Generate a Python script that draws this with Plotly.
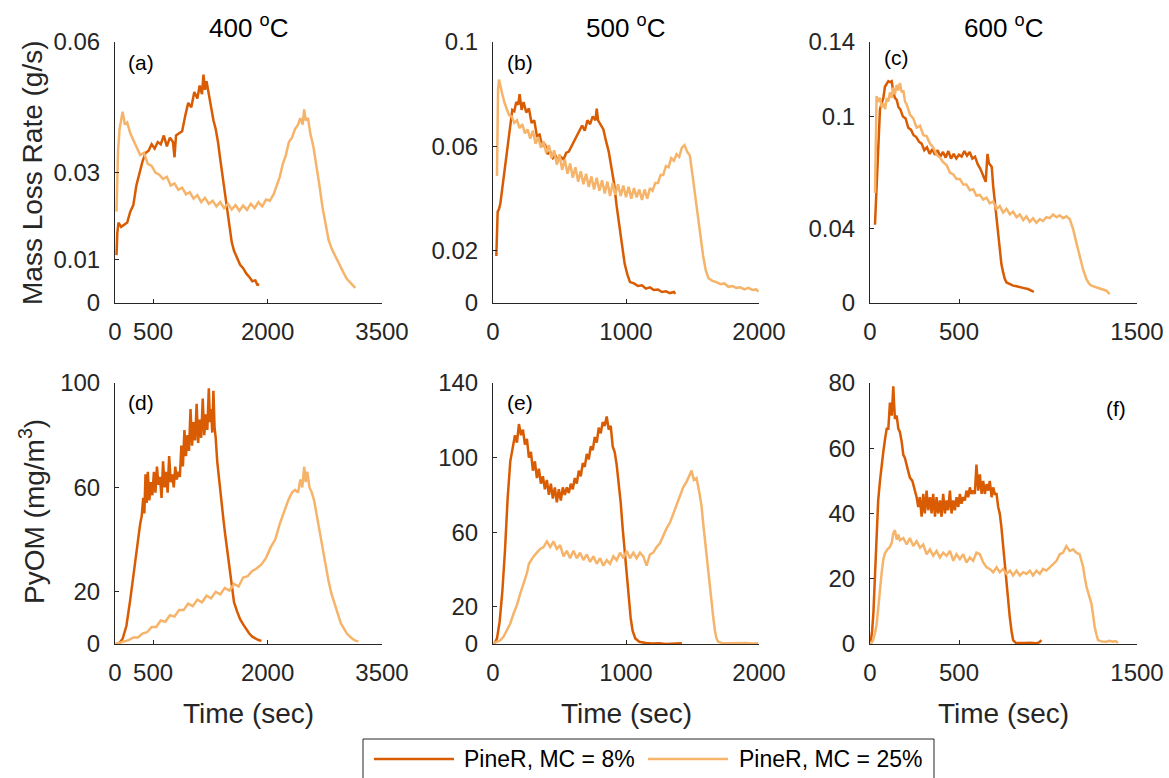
import plotly.graph_objects as go

# ---------------- data ----------------
SERIES = ["PineR, MC = 8%", "PineR, MC = 25%"]
COLORS = ["#D95B02", "#F6B46A"]
TEMPS = ["400", "500", "600"]
PANELS = ["(a)", "(b)", "(c)", "(d)", "(e)", "(f)"]

# (a) 400 C mass loss rate (g/s)
A8_T = [20, 30, 45, 80, 120, 160, 200, 240, 280, 320, 360, 400, 440, 480, 520, 560, 600, 640, 680, 720,
        760, 780, 800, 840, 880, 920, 960, 1000, 1040, 1080, 1110, 1140, 1160, 1180, 1200, 1230, 1260, 1290, 1320, 1350,
        1380, 1410, 1440, 1470, 1500, 1530, 1560, 1600, 1640, 1680, 1720, 1760, 1800, 1840, 1870, 1880]
A8_V = [0.011, 0.016, 0.0185, 0.0175, 0.018, 0.0185, 0.021, 0.0225, 0.027, 0.030, 0.0325, 0.0345, 0.035, 0.0365, 0.0355, 0.037, 0.0365, 0.0385, 0.036, 0.038,
        0.037, 0.0335, 0.0385, 0.039, 0.0395, 0.043, 0.046, 0.045, 0.0485, 0.047, 0.050, 0.048, 0.0525, 0.049, 0.051, 0.048, 0.045, 0.042, 0.040, 0.037,
        0.033, 0.029, 0.025, 0.021, 0.018, 0.014, 0.012, 0.0105, 0.0088, 0.008, 0.0068, 0.006, 0.005, 0.0052, 0.004, 0.0045]
A25_T = [20, 40, 60, 80, 100, 130, 160, 200, 240, 280, 330, 380, 430, 480, 530, 580, 630, 680, 730, 780,
         830, 880, 930, 980, 1030, 1080, 1130, 1180, 1230, 1280, 1330, 1380, 1430, 1480, 1530, 1580, 1630, 1680, 1730, 1780,
         1830, 1880, 1930, 1980, 2030, 2080, 2120, 2160, 2200, 2240, 2280, 2320, 2360, 2400, 2430, 2460, 2480, 2500, 2530, 2560,
         2600, 2640, 2680, 2720, 2760, 2800, 2840, 2880, 2920, 2960, 3000, 3040, 3080, 3120, 3150]
A25_V = [0.021, 0.035, 0.040, 0.042, 0.044, 0.041, 0.0415, 0.039, 0.0375, 0.036, 0.034, 0.0345, 0.032, 0.0315, 0.030, 0.0295, 0.0285, 0.029, 0.027, 0.0275,
         0.026, 0.0265, 0.025, 0.0255, 0.024, 0.0248, 0.0232, 0.0242, 0.0228, 0.0235, 0.0222, 0.0232, 0.0218, 0.0228, 0.0215, 0.0225, 0.0212, 0.0224, 0.0214, 0.0228,
         0.0218, 0.0232, 0.0222, 0.0238, 0.0235, 0.025, 0.027, 0.029, 0.032, 0.034, 0.037, 0.038, 0.040, 0.041, 0.0425, 0.041, 0.0445, 0.042, 0.0425, 0.039,
         0.036, 0.032, 0.027, 0.022, 0.018, 0.0145, 0.0125, 0.011, 0.0095, 0.008, 0.0068, 0.0055, 0.0048, 0.004, 0.0035]

# (b) 500 C mass loss rate (g/s)
B8_T = [25, 30, 35, 45, 55, 70, 85, 100, 115, 130, 145, 160, 175, 190, 200, 215, 230, 250, 270, 290,
        310, 330, 350, 370, 390, 410, 430, 450, 470, 490, 510, 530, 550, 570, 590, 610, 630, 650, 670, 690,
        710, 730, 750, 770, 780, 790, 810, 830, 850, 870, 890, 910, 930, 950, 970, 990, 1010, 1030, 1060, 1090,
        1120, 1150, 1180, 1210, 1240, 1270, 1300, 1330, 1360, 1370]
B8_V = [0.018, 0.030, 0.035, 0.036, 0.038, 0.044, 0.050, 0.058, 0.063, 0.069, 0.074, 0.0735, 0.077, 0.076, 0.080, 0.074, 0.077, 0.073, 0.0745, 0.069,
        0.070, 0.064, 0.0645, 0.060, 0.061, 0.057, 0.058, 0.0555, 0.0565, 0.0545, 0.056, 0.055, 0.0575, 0.058, 0.060, 0.0615, 0.064, 0.0655, 0.068, 0.066,
        0.070, 0.0685, 0.0715, 0.070, 0.0745, 0.070, 0.068, 0.0665, 0.062, 0.058, 0.052, 0.046, 0.037, 0.029, 0.021, 0.015, 0.011, 0.008, 0.0075, 0.0065,
        0.0068, 0.0055, 0.006, 0.005, 0.0052, 0.0042, 0.0045, 0.0038, 0.0042, 0.0035]
B25_T = [30, 38, 45, 55, 70, 85, 100, 120, 140, 160, 180, 200, 220, 240, 260, 280, 300, 320, 340, 360,
         380, 400, 420, 440, 460, 480, 500, 520, 540, 560, 580, 600, 620, 640, 660, 680, 700, 720, 740, 760,
         780, 800, 820, 840, 860, 880, 900, 920, 940, 960, 980, 1000, 1020, 1040, 1060, 1080, 1100, 1120, 1140, 1160,
         1180, 1200, 1220, 1240, 1260, 1280, 1300, 1320, 1340, 1360, 1380, 1400, 1420, 1440, 1460, 1480, 1500, 1520, 1540, 1560,
         1580, 1600, 1620, 1650, 1680, 1710, 1740, 1770, 1800, 1830, 1860, 1890, 1920, 1950, 1980, 1995]
B25_V = [0.0487, 0.082, 0.0856, 0.083, 0.080, 0.077, 0.075, 0.072, 0.0715, 0.069, 0.070, 0.067, 0.0685, 0.065, 0.0665, 0.063, 0.066, 0.061, 0.0635, 0.0595,
         0.062, 0.0575, 0.0605, 0.0555, 0.0585, 0.053, 0.057, 0.051, 0.055, 0.0495, 0.0535, 0.048, 0.052, 0.0465, 0.0505, 0.0455, 0.0495, 0.0445, 0.0485, 0.0435,
         0.048, 0.043, 0.047, 0.042, 0.0465, 0.041, 0.046, 0.0415, 0.0455, 0.041, 0.045, 0.0405, 0.0445, 0.040, 0.044, 0.0405, 0.0435, 0.0395, 0.0435, 0.040,
         0.044, 0.043, 0.046, 0.046, 0.049, 0.049, 0.0525, 0.052, 0.0555, 0.0545, 0.057, 0.056, 0.0595, 0.0605, 0.058, 0.0565, 0.049, 0.041, 0.033, 0.025,
         0.018, 0.0125, 0.0095, 0.0085, 0.008, 0.0072, 0.0075, 0.0062, 0.0065, 0.0058, 0.006, 0.0052, 0.0058, 0.005, 0.0052, 0.0043]

# (c) 600 C mass loss rate (g/s)
C8_T = [28, 33, 37, 42, 47, 52, 56, 65, 75, 84, 94, 103, 112, 122, 131, 140, 150, 160, 170, 185,
        200, 215, 230, 245, 260, 275, 290, 305, 320, 335, 350, 365, 380, 395, 410, 425, 440, 455, 470, 485,
        500, 515, 530, 545, 560, 575, 590, 605, 620, 635, 650, 660, 668, 676, 684, 692, 700, 711, 720, 729,
        738, 748, 757, 767, 785, 804, 823, 842, 865, 888, 905, 920]
C8_V = [0.042, 0.055, 0.063, 0.078, 0.088, 0.098, 0.104, 0.107, 0.110, 0.116, 0.118, 0.119, 0.1185, 0.119, 0.113, 0.110, 0.109, 0.105, 0.104, 0.100,
        0.099, 0.094, 0.093, 0.090, 0.089, 0.0865, 0.0855, 0.082, 0.0835, 0.080, 0.0825, 0.0795, 0.082, 0.0785, 0.081, 0.078, 0.0815, 0.0775, 0.080, 0.0775,
        0.0795, 0.0785, 0.0815, 0.0790, 0.0810, 0.0775, 0.0785, 0.0745, 0.072, 0.068, 0.065, 0.080, 0.075, 0.074, 0.0730, 0.0628, 0.055, 0.0467, 0.036, 0.027,
        0.021, 0.0164, 0.013, 0.011, 0.010, 0.0093, 0.009, 0.0084, 0.0080, 0.0075, 0.0068, 0.006]
C25_T = [28, 32, 37, 45, 56, 66, 75, 85, 94, 103, 112, 122, 131, 140, 150, 159, 168, 178, 187, 197,
         206, 225, 243, 262, 281, 300, 318, 337, 355, 374, 393, 411, 430, 449, 468, 486, 505, 524, 542, 561,
         580, 598, 617, 636, 655, 673, 692, 711, 729, 748, 767, 786, 804, 823, 842, 861, 879, 898, 916, 935,
         954, 972, 991, 1010, 1029, 1048, 1066, 1085, 1103, 1122, 1141, 1159, 1178, 1197, 1216, 1230, 1244, 1267, 1290, 1310,
         1328, 1346]
C25_V = [0.059, 0.100, 0.111, 0.108, 0.110, 0.105, 0.107, 0.104, 0.110, 0.108, 0.113, 0.110, 0.1155, 0.112, 0.117, 0.114, 0.118, 0.113, 0.114, 0.108,
         0.1065, 0.101, 0.099, 0.094, 0.095, 0.090, 0.0895, 0.0855, 0.0835, 0.0795, 0.078, 0.0755, 0.074, 0.070, 0.069, 0.0665, 0.0665, 0.0635, 0.0635, 0.0605,
         0.0610, 0.0575, 0.058, 0.0555, 0.0565, 0.0535, 0.0545, 0.0505, 0.052, 0.0485, 0.0505, 0.0475, 0.049, 0.046, 0.0475, 0.0445, 0.0465, 0.0435, 0.0455, 0.0430,
         0.0450, 0.0440, 0.0460, 0.0455, 0.0475, 0.0460, 0.0470, 0.0455, 0.0465, 0.0450, 0.0396, 0.0325, 0.0253, 0.018, 0.0128, 0.0105, 0.0093, 0.0085, 0.0075, 0.0072,
         0.0066, 0.0048]

# (d) 400 C PyOM (mg/m3)
D8_T = [20, 60, 100, 150, 200, 240, 270, 300, 330, 350, 370, 385, 400, 415, 430, 450, 470, 490, 510, 530,
        550, 570, 590, 610, 630, 650, 670, 690, 710, 730, 750, 770, 790, 810, 830, 850, 870, 890, 910, 930,
        950, 970, 990, 1010, 1030, 1050, 1070, 1090, 1110, 1130, 1150, 1170, 1190, 1210, 1230, 1245, 1260, 1275, 1290, 1305,
        1320, 1340, 1360, 1380, 1400, 1420, 1440, 1470, 1500, 1530, 1560, 1600, 1640, 1680, 1720, 1760, 1800, 1840, 1880, 1920]
D8_V = [0, 0.5, 2, 7, 17, 26, 34, 41, 46, 49, 56, 50, 65, 54, 66, 55, 62, 57, 66, 58,
        68, 61, 64, 56, 70, 60, 66, 58, 72, 62, 65, 60, 68, 63, 66, 64, 76, 68, 82, 72,
        80, 74, 90, 76, 85, 78, 92, 77, 86, 79, 94, 80, 88, 82, 98, 85, 90, 81, 97, 83,
        79, 70, 64, 58, 53, 48, 43, 36, 28, 21, 16, 12.5, 9.5, 7.5, 5.5, 4, 2.8, 2, 1.5, 1.2]
D25_T = [0, 60, 120, 180, 240, 300, 360, 420, 480, 540, 600, 660, 720, 780, 840, 900, 960, 1020, 1080, 1140,
         1200, 1260, 1320, 1380, 1440, 1500, 1560, 1620, 1680, 1740, 1800, 1860, 1920, 1980, 2040, 2100, 2160, 2220, 2270, 2320,
         2360, 2400, 2430, 2455, 2480, 2500, 2520, 2550, 2580, 2610, 2640, 2680, 2720, 2760, 2800, 2840, 2880, 2920, 2960, 3000,
         3040, 3080, 3120, 3160, 3190]
D25_V = [0, 0.5, 1, 1.5, 2.5, 2.5, 4, 4.5, 6.5, 6.5, 9, 8.5, 11, 10.5, 13, 13, 15.5, 14.5, 17, 16,
         18.5, 17.5, 20, 19, 21.5, 20.5, 23, 22, 25.5, 26, 28, 29, 30.5, 33, 37, 40, 46, 51, 55, 58,
         59, 58, 63, 60, 68, 62, 66, 60, 58, 55, 50, 43, 36, 30, 24, 19, 15, 11, 8, 6,
         4, 2.8, 1.8, 1.2, 1]

# (e) 500 C PyOM (mg/m3)
E8_T = [10, 30, 50, 70, 90, 110, 130, 150, 165, 180, 195, 210, 225, 240, 255, 270, 285, 300, 315, 330,
        345, 360, 375, 390, 405, 420, 435, 450, 465, 480, 495, 510, 525, 540, 555, 570, 585, 600, 615, 630,
        645, 660, 675, 690, 705, 720, 735, 750, 765, 780, 795, 810, 825, 840, 855, 870, 885, 900, 915, 930,
        945, 960, 975, 990, 1005, 1020, 1035, 1050, 1070, 1100, 1150, 1200, 1250, 1300, 1350, 1400, 1420]
E8_V = [0, 3, 12, 28, 50, 78, 98, 107, 112, 108, 118, 112, 115, 107, 110, 100, 103, 93, 98, 89,
        94, 86, 90, 83, 88, 80, 86, 78, 84, 76, 83, 77, 84, 80, 84, 81, 86, 83, 89, 86,
        93, 90, 97, 95, 102, 99, 106, 104, 111, 108, 116, 113, 119, 117, 122, 115, 117, 106, 103, 96,
        87, 76, 62, 49, 36, 24, 14, 7, 3, 1.2, 0.5, 0.3, 0.4, 0, 0.3, 0.2, 0.4]
E25_T = [5, 30, 55, 80, 105, 130, 155, 180, 205, 230, 255, 270, 285, 305, 330, 355, 380, 405, 430, 455,
         480, 505, 530, 555, 580, 605, 630, 655, 680, 705, 730, 755, 780, 805, 830, 855, 880, 905, 930, 955,
         980, 1005, 1030, 1055, 1080, 1105, 1130, 1155, 1180, 1205, 1230, 1255, 1280, 1305, 1330, 1355, 1380, 1405, 1430, 1455,
         1475, 1493, 1510, 1530, 1550, 1568, 1580, 1593, 1606, 1618, 1630, 1643, 1655, 1668, 1680, 1693, 1720, 1760, 1800, 1850,
         1900, 1950, 1993]
E25_V = [0.4, 1, 2, 4, 7.5, 11, 16.4, 21, 27, 32, 38, 43, 45, 47, 49, 51, 52, 55, 52, 55,
         51, 53, 47, 50, 46, 50, 46, 49, 45, 48, 44, 47, 43, 46, 42, 45, 43, 47, 45, 49,
         46, 50, 46, 49, 46, 49, 47, 42, 48, 49, 52, 54, 58, 62, 65, 70, 74, 80, 84, 87,
         90, 93, 88, 89, 82, 74, 65, 56, 47, 38, 30, 23, 15, 7.5, 3, 1.2, 0.6, 0.4, 0.5, 0.3,
         0.5, 0.3, 0.4]

# (f) 600 C PyOM (mg/m3)
F8_T = [4, 12, 19, 28, 37, 46, 56, 65, 75, 85, 94, 103, 112, 122, 128, 131, 135, 140, 150, 159,
        168, 178, 187, 196, 210, 224, 238, 253, 262, 271, 280, 290, 299, 308, 318, 327, 337, 346, 355, 365,
        374, 383, 393, 402, 411, 421, 430, 439, 449, 458, 468, 477, 486, 496, 505, 514, 524, 533, 542, 552,
        561, 570, 580, 589, 598, 608, 617, 627, 636, 645, 655, 664, 673, 683, 692, 701, 711, 720, 729, 738,
        748, 757, 767, 776, 785, 795, 804, 820, 842, 870, 900, 930, 950, 963]
F8_V = [0.7, 4, 9.4, 22, 37, 44, 50, 55, 59, 63, 66, 66, 74, 70, 78, 79, 74, 69, 70, 66,
        65, 62, 58, 57, 54, 51, 50, 47, 45, 42, 45, 39, 46, 40, 47, 41, 45, 40, 46, 39,
        45, 40, 44, 39, 46, 40, 44, 41, 47, 40, 44, 41, 45, 42, 46, 43, 45, 44, 47, 45,
        48, 46, 47, 46, 55, 47, 52, 46, 50, 46, 49, 47, 50, 45, 48, 46, 46, 42, 40, 36,
        30, 24, 17.6, 12, 8.4, 4, 1.2, 0.3, 0.2, 0.3, 0.4, 0.2, 0.5, 1.2]
F25_T = [4, 16, 28, 37, 47, 56, 65, 75, 84, 98, 112, 122, 131, 140, 150, 159, 168, 187, 206, 224,
         243, 262, 281, 299, 318, 337, 355, 374, 393, 411, 430, 449, 468, 486, 505, 524, 542, 561, 580, 598,
         617, 636, 655, 673, 692, 711, 729, 748, 767, 786, 804, 823, 842, 861, 879, 898, 916, 935, 954, 972,
         991, 1010, 1029, 1048, 1066, 1085, 1103, 1122, 1141, 1159, 1178, 1188, 1197, 1206, 1216, 1230, 1244, 1253, 1262, 1272,
         1281, 1300, 1328, 1345, 1365, 1380, 1393]
F25_V = [0, 1, 3.3, 6, 11.4, 17, 21.6, 26, 27.8, 29, 29.8, 31, 33.9, 34.9, 32, 33.5, 31.8, 32.5, 30.5, 32.5,
         30, 31.5, 29.5, 30.5, 27.5, 29, 27, 28.5, 26.5, 28, 27, 28.5, 25.5, 27.5, 26, 27.5, 25, 26.5, 25.5, 28,
         27.5, 25, 23.5, 23, 22, 23.5, 22, 23, 21.5, 22.5, 21, 22.5, 21, 22, 21.5, 22.5, 21, 22.5, 21.5, 23,
         22.5, 23.5, 24.5, 25.5, 27.5, 28, 30, 28.5, 29, 28, 27.5, 25.5, 23.7, 20.5, 17.6, 15, 12.4, 9, 5.3, 3,
         1.2, 0.8, 0.7, 1, 0.7, 0.9, 0.4]

PANEL_DATA = [
    (A8_T, A8_V, A25_T, A25_V), (B8_T, B8_V, B25_T, B25_V), (C8_T, C8_V, C25_T, C25_V),
    (D8_T, D8_V, D25_T, D25_V), (E8_T, E8_V, E25_T, E25_V), (F8_T, F8_V, F25_T, F25_V),
]
X_RANGES = [3500, 2000, 1500]
X_TICKS = [[0, 500, 2000, 3500], [0, 1000, 2000], [0, 500, 1500]]
Y_RANGES = [0.06, 0.1, 0.14, 100, 140, 80]
Y_TICKS = [[0, 0.01, 0.03, 0.06], [0, 0.02, 0.06, 0.1], [0, 0.04, 0.1, 0.14],
           [0, 20, 60, 100], [0, 20, 60, 100, 140], [0, 20, 40, 60, 80]]

# ---------------- layout ----------------
W, H = 1169, 778
FONT = "Liberation Sans, Arial, Helvetica, sans-serif"
AX = "#262626"
XPIX = [(115, 382), (493, 759), (870, 1137)]
YPIX = [(42, 303), (383, 644)]


def px(x):
    return x / W


def py(y):
    return 1 - y / H


fig = go.Figure()
layout = dict(template="none", width=W, height=H,
              margin=dict(l=0, r=0, t=0, b=0, pad=0, autoexpand=False),
              paper_bgcolor="white", plot_bgcolor="white", showlegend=False,
              font=dict(family=FONT, color=AX))

annotations = []
for i in range(6):
    r, c = divmod(i, 3)
    n = i + 1
    xa = "x" if n == 1 else f"x{n}"
    ya = "y" if n == 1 else f"y{n}"
    t8, v8, t25, v25 = PANEL_DATA[i]
    fig.add_trace(go.Scatter(x=t8, y=v8, mode="lines", name=SERIES[0], xaxis=xa, yaxis=ya,
                             line=dict(color=COLORS[0], width=2.5)))
    fig.add_trace(go.Scatter(x=t25, y=v25, mode="lines", name=SERIES[1], xaxis=xa, yaxis=ya,
                             line=dict(color=COLORS[1], width=2.5)))
    common = dict(showline=True, linecolor=AX, linewidth=1, ticks="inside", ticklen=4,
                  tickcolor=AX, tickwidth=1, showgrid=False, zeroline=False, automargin=False,
                  tickfont=dict(family=FONT, size=24, color=AX))
    layout[f"xaxis{n}"] = dict(common, domain=[px(XPIX[c][0]), px(XPIX[c][1])],
                               range=[0, X_RANGES[c]], tickvals=X_TICKS[c],
                               ticktext=[str(v) for v in X_TICKS[c]], anchor=ya,
                               ticklabelstandoff=7)
    layout[f"yaxis{n}"] = dict(common, domain=[py(YPIX[r][1]), py(YPIX[r][0])],
                               range=[0, Y_RANGES[i]], tickvals=Y_TICKS[i],
                               ticktext=[f"{v:g}" for v in Y_TICKS[i]], anchor=xa,
                               ticklabelstandoff=9)

# column titles and x-axis titles
for c in range(3):
    annotations.append(dict(text=f"{TEMPS[c]} <sup>o</sup>C", x=px((XPIX[c][0] + XPIX[c][1]) / 2), y=py(27),
                            xref="paper", yref="paper", showarrow=False, xanchor="center", yanchor="middle",
                            font=dict(family=FONT, size=26, color="black")))
    annotations.append(dict(text="Time (sec)", x=px((XPIX[c][0] + XPIX[c][1]) / 2), y=py(713),
                            xref="paper", yref="paper", showarrow=False, xanchor="center", yanchor="middle",
                            font=dict(family=FONT, size=28, color=AX)))

annotations.append(dict(text="Mass Loss Rate (g/s)", x=px(32), y=py(173), textangle=-90,
                        xref="paper", yref="paper", showarrow=False, xanchor="center", yanchor="middle",
                        font=dict(family=FONT, size=28, color=AX)))
annotations.append(dict(text="PyOM (mg/m<sup>3</sup>)", x=px(32), y=py(512), textangle=-90,
                        xref="paper", yref="paper", showarrow=False, xanchor="center", yanchor="middle",
                        font=dict(family=FONT, size=28, color=AX)))

# panel labels
LABEL_POS = [(126, 62), (505, 62), (882, 58), (126, 402), (505, 403), (1104, 408)]
for i, lab in enumerate(PANELS):
    annotations.append(dict(text=lab, x=px(LABEL_POS[i][0]), y=py(LABEL_POS[i][1]),
                            xref="paper", yref="paper", showarrow=False, xanchor="left", yanchor="middle",
                            font=dict(family=FONT, size=21, color="black")))

# legend (drawn as box + sample lines + text)
shapes = [dict(type="rect", xref="paper", yref="paper", x0=px(363), x1=px(934), y0=py(800), y1=py(739),
               line=dict(color=AX, width=1), fillcolor="white", layer="above")]
LEG = [(374, 454, 462), (648, 728, 737)]
for k in range(2):
    x0, x1, xt = LEG[k]
    shapes.append(dict(type="line", xref="paper", yref="paper", x0=px(x0), x1=px(x1), y0=py(759), y1=py(759),
                       line=dict(color=COLORS[k], width=2.4), layer="above"))
    annotations.append(dict(text=SERIES[k], x=px(xt), y=py(759), xref="paper", yref="paper", showarrow=False,
                            xanchor="left", yanchor="middle", font=dict(family=FONT, size=23, color="black")))

layout["annotations"] = annotations
layout["shapes"] = shapes
fig.update_layout(**layout)
fig.write_html("out.html", config={"displayModeBar": False},
               post_script="document.body.style.margin='0';document.body.style.overflow='hidden';")
